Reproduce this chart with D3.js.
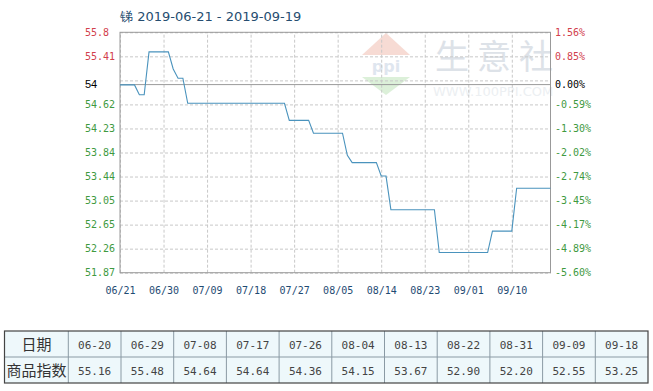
<!DOCTYPE html>
<html><head><meta charset="utf-8">
<script src="https://cdn.jsdelivr.net/npm/d3@7"></script>
<style>
html,body{margin:0;padding:0;background:#fff;}
svg{display:block;}
</style></head>
<body>
<svg id="chart" width="653" height="391"></svg>
<script>
// ---- data ----
const title = "锑 2019-06-21 - 2019-09-19";
const lineDates = ["2019-06-21","2019-06-24","2019-06-25","2019-06-26","2019-06-27","2019-07-01","2019-07-02","2019-07-03","2019-07-04","2019-07-05","2019-07-25","2019-07-26","2019-07-30","2019-07-31","2019-08-06","2019-08-07","2019-08-08","2019-08-13","2019-08-14","2019-08-15","2019-08-16","2019-08-25","2019-08-26","2019-09-05","2019-09-06","2019-09-10","2019-09-11","2019-09-18"];
const lineValues = [54.94,54.94,54.78,54.78,55.48,55.48,55.20,55.05,55.05,54.64,54.64,54.36,54.36,54.15,54.15,53.79,53.67,53.67,53.45,53.45,52.90,52.90,52.20,52.20,52.55,52.55,53.25,53.25];
const baseValue = 54.945;
const baseLabelLeft = "54";
const baseLabelRight = "0.00%";
const yGridValues = [55.8,55.407,55.014,54.621,54.228,53.835,53.442,53.049,52.656,52.263,51.87];
const leftLabels = ["55.8","55.41","","54.62","54.23","53.84","53.44","53.05","52.65","52.26","51.87"];
const rightLabels = ["1.56%","0.85%","","-0.59%","-1.30%","-2.02%","-2.74%","-3.45%","-4.17%","-4.89%","-5.60%"];
const xTickDates = ["2019-06-21","2019-06-30","2019-07-09","2019-07-18","2019-07-27","2019-08-05","2019-08-14","2019-08-23","2019-09-01","2019-09-10"];
const xTickLabels = ["06/21","06/30","07/09","07/18","07/27","08/05","08/14","08/23","09/01","09/10"];
const xDomain = ["2019-06-21","2019-09-18"];
const tableHeader = ["日期","商品指数"];
const tableDates = ["06-20","06-29","07-08","07-17","07-26","08-04","08-13","08-22","08-31","09-09","09-18"];
const tableValues = ["55.16","55.48","54.64","54.64","54.36","54.15","53.67","52.90","52.20","52.55","53.25"];
const watermarkChars = ["生","意","社"];

// ---- layout ----
const L = 120, R = 550.5, T = 32.3, B = 272.7;
const parse = d3.utcParse("%Y-%m-%d");
const svg = d3.select("#chart");
const mono = "'DejaVu Sans Mono', 'Liberation Mono', monospace";
const red = "#d2404c", green = "#3f9a3f";

const x = d3.scaleUtc().domain(xDomain.map(parse)).range([L, R]);
const y = d3.scaleLinear().domain([51.87, 55.8]).range([B, T]);

// watermark
const wm = svg.append("g");
const cx = 386;
wm.append("path").attr("d", `M${cx},33 L${cx+24},55 L${cx-24},55 Z`).attr("fill", "#f7dbd4");
wm.append("text").attr("x", cx).attr("y", 72).attr("text-anchor", "middle")
  .attr("font-family", "DejaVu Sans").attr("font-size", 16).attr("font-weight", "bold")
  .attr("fill", "#dfe6ef").text("ppi");
wm.append("path").attr("d", `M${cx-24},77 L${cx+24},77 L${cx},95 Z`).attr("fill", "#dcf0d9");
wm.selectAll(null).data(watermarkChars).join("text")
  .attr("x", (d, i) => 435 + i * 42).attr("y", 69)
  .attr("font-family", "'Noto Sans CJK SC'").attr("font-size", 34)
  .attr("fill", "#dde2e8").text(d => d);
wm.append("text").attr("x", 433).attr("y", 96)
  .attr("font-family", "DejaVu Sans").attr("font-size", 13)
  .attr("fill", "#eceff2").text("WWW.100PPI.COM");

// gridlines horizontal
svg.append("g").attr("transform", `translate(${L},0)`)
  .call(d3.axisLeft(y).tickValues(yGridValues).tickSize(-(R - L)).tickFormat(""))
  .call(g => g.select(".domain").remove())
  .call(g => g.selectAll("line").attr("stroke", "#c8c8c8").attr("stroke-dasharray", "3,2"));
// gridlines vertical
svg.append("g").attr("transform", `translate(0,${B})`)
  .call(d3.axisBottom(x).tickValues(xTickDates.map(parse)).tickSize(-(B - T)).tickFormat(""))
  .call(g => g.select(".domain").remove())
  .call(g => g.selectAll("line").attr("stroke", "#c8c8c8").attr("stroke-dasharray", "3,2"));

// baseline
svg.append("line").attr("x1", L).attr("x2", R).attr("y1", y(baseValue)).attr("y2", y(baseValue))
  .attr("stroke", "#9a9a9a").attr("stroke-width", 1);

// border
svg.append("rect").attr("x", L).attr("y", T).attr("width", R - L).attr("height", B - T)
  .attr("fill", "none").attr("stroke", "#999").attr("stroke-width", 1);

// line
const pts = lineDates.map((d, i) => [parse(d), lineValues[i]]);
svg.append("path").datum(pts)
  .attr("d", d3.line().x(d => x(d[0])).y(d => y(d[1])))
  .attr("fill", "none").attr("stroke", "#4a93bd").attr("stroke-width", 1.1);

// left axis labels
const colorFor = i => i < 2 ? red : green;
svg.append("g").attr("transform", `translate(${L},0)`)
  .call(d3.axisLeft(y).tickValues(yGridValues).tickSize(0).tickFormat((d, i) => leftLabels[i]))
  .call(g => g.select(".domain").remove())
  .call(g => g.selectAll("text").attr("x", -35).attr("text-anchor", "start")
    .attr("font-family", mono).attr("font-size", 10).attr("fill", (d, i) => colorFor(i)));
svg.append("text").attr("x", L - 35).attr("y", y(baseValue)).attr("dy", "0.35em")
  .attr("font-family", "'Liberation Sans', Arial").attr("font-size", 11).attr("fill", "#000").text(baseLabelLeft);

// right axis labels
svg.append("g").attr("transform", `translate(${R},0)`)
  .call(d3.axisRight(y).tickValues(yGridValues).tickSize(0).tickPadding(4.5).tickFormat((d, i) => rightLabels[i]))
  .call(g => g.select(".domain").remove())
  .call(g => g.selectAll("text").attr("font-family", mono).attr("font-size", 10).attr("fill", (d, i) => colorFor(i)));
svg.append("text").attr("x", R + 4.5).attr("y", y(baseValue)).attr("dy", "0.35em")
  .attr("font-family", mono).attr("font-size", 10).attr("fill", "#000").text(baseLabelRight);

// x axis labels
svg.append("g").attr("transform", `translate(0,${B})`)
  .call(d3.axisBottom(x).tickValues(xTickDates.map(parse)).tickSize(0).tickPadding(14)
    .tickFormat((d, i) => xTickLabels[i]))
  .call(g => g.select(".domain").remove())
  .call(g => g.selectAll("text").attr("font-family", mono).attr("font-size", 10).attr("fill", "#1f4b73"));

// title
svg.append("text").attr("x", L).attr("y", 21)
  .attr("font-family", "'DejaVu Sans'").attr("font-size", 13).attr("fill", "#264d70").text(title);

// table
const tX0 = 4.5, tX1 = 68.3, tW = (648 - 68.3) / tableDates.length;
const tY = [331, 357, 383];
const tbl = svg.append("g");
tbl.append("rect").attr("x", tX0).attr("y", tY[0]).attr("width", 648 - tX0).attr("height", tY[2] - tY[0])
  .attr("fill", "#eef8fb");
const rows = [tableDates, tableValues];
rows.forEach((row, r) => {
  tbl.append("text").attr("x", (tX0 + tX1) / 2).attr("y", (tY[r] + tY[r + 1]) / 2 + 1).attr("dy", "0.35em")
    .attr("text-anchor", "middle").attr("font-family", "'Noto Sans CJK SC'").attr("font-size", 15)
    .attr("fill", "#333").text(tableHeader[r]);
  tbl.selectAll(null).data(row).join("text")
    .attr("x", (d, i) => tX1 + tW * (i + 0.5)).attr("y", (tY[r] + tY[r + 1]) / 2 + 1).attr("dy", "0.35em")
    .attr("text-anchor", "middle").attr("font-family", mono).attr("font-size", 11)
    .attr("fill", "#444").text(d => d);
});
// inner lines
tbl.append("line").attr("x1", tX0).attr("x2", 648).attr("y1", tY[1]).attr("y2", tY[1]).attr("stroke", "#8a9aa4");
tbl.selectAll(null).data(d3.range(tableDates.length)).join("line")
  .attr("x1", i => tX1 + tW * i).attr("x2", i => tX1 + tW * i).attr("y1", tY[0]).attr("y2", tY[2])
  .attr("stroke", "#8a9aa4");
tbl.append("rect").attr("x", tX0).attr("y", tY[0]).attr("width", 648 - tX0).attr("height", tY[2] - tY[0])
  .attr("fill", "none").attr("stroke", "#444").attr("stroke-width", 1.2);
</script>
</body></html>
